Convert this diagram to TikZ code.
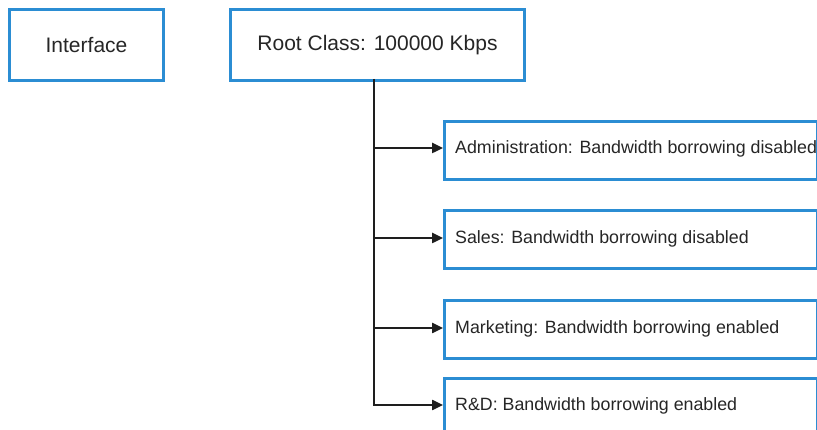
\documentclass[tikz,border=0pt]{standalone}
\usepackage{fontspec}
\setmainfont{Liberation Sans}
\usetikzlibrary{arrows.meta}
\definecolor{boxblue}{HTML}{2B8DD3}
\definecolor{linegray}{HTML}{1E1E1E}
\begin{document}
\begin{tikzpicture}[x=1pt,y=-1pt,
  topbox/.style={draw=boxblue,line width=3pt,rectangle,inner sep=0pt},
  childbox/.style={draw=boxblue,line width=3pt,rectangle,inner sep=0pt,minimum width=373pt,minimum height=58pt,anchor=north west},
  toptext/.style={font=\fontsize{21}{24}\selectfont,text=black!85},
  childtext/.style={font=\fontsize{17.8}{21}\selectfont,text=black!85,anchor=west,inner sep=0pt},
  conn/.style={draw=linegray,line width=2.4pt},
  arr/.style={conn,-{Triangle[length=11pt,width=10pt]}}
]
\useasboundingbox (0,0) rectangle (817,430);
\clip (0,0) rectangle (817,430);
\fill[white] (0,0) rectangle (817,430);
\node[topbox,minimum width=154pt,minimum height=71pt,anchor=north west] (iface) at (8,8) {};
\node[toptext] (ifacetxt) at (iface.center) {Interface};
\node[topbox,minimum width=294pt,minimum height=71pt,anchor=north west] (root) at (229,8) {};
\node[toptext] (roottxt) at (root.center) {Root Class: 100000 Kbps};
\node[childbox] (adm) at (443,120) {};
\node[childbox] (sal) at (443,209) {};
\node[childbox] (mkt) at (443,299) {};
\node[childbox] (rnd) at (443,377) {};
\node[childtext] (admt) at (455,149) {Administration: Bandwidth borrowing disabled};
\node[childtext] (salt) at (455,239) {Sales: Bandwidth borrowing disabled};
\node[childtext] (mktt) at (455,329) {Marketing: Bandwidth borrowing enabled};
\node[childtext] (rndt) at (455,406) {R\&D: Bandwidth borrowing enabled};
\coordinate (top) at (374,79);
\coordinate (j1) at (374,148);
\coordinate (j2) at (374,238);
\coordinate (j3) at (374,328);
\coordinate (j4) at (374,405);
\draw[conn] (top) -- (j4);
\draw[arr] (j1) -- (adm.west |- j1);
\draw[arr] (j2) -- (sal.west |- j2);
\draw[arr] (j3) -- (mkt.west |- j3);
\draw[arr] ([xshift=-1.2pt]j4) -- (rnd.west |- j4);
\end{tikzpicture}
\end{document}
